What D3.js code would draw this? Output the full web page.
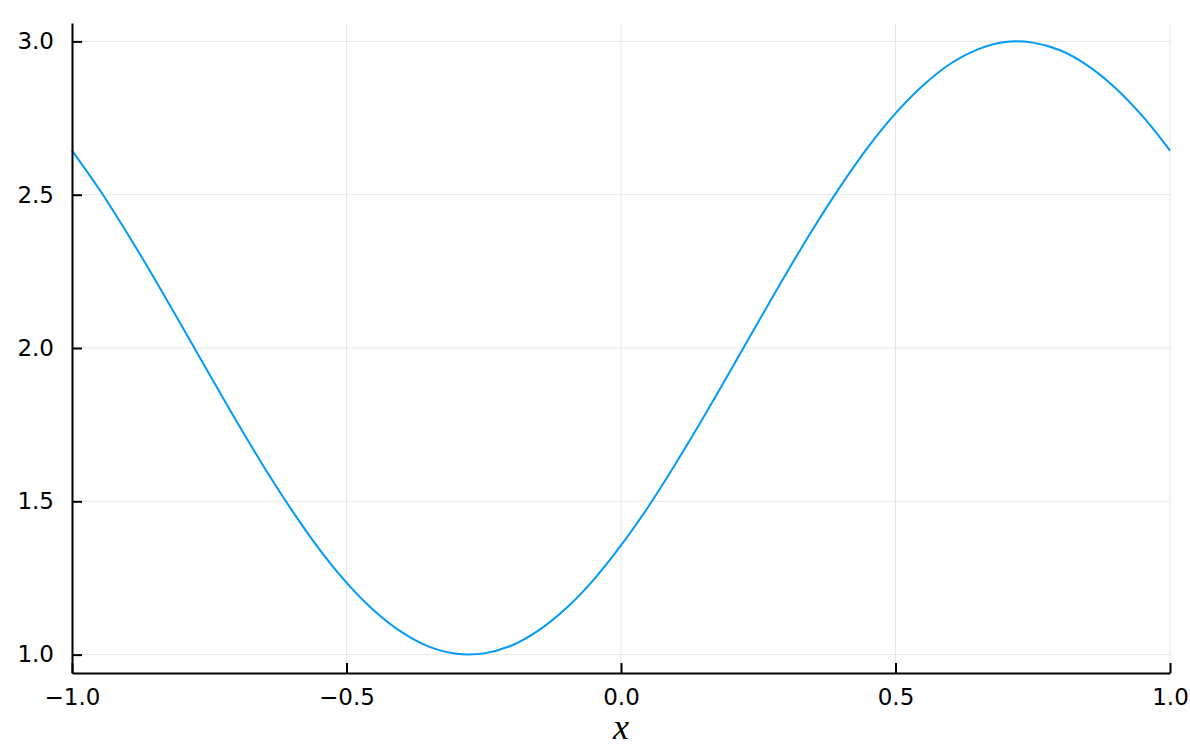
<!DOCTYPE html>
<html>
<head>
<meta charset="utf-8">
<script src="https://cdn.jsdelivr.net/npm/d3@7"></script>
<style>
  body { margin: 0; background: #fff; }
  svg { display: block; }
</style>
</head>
<body>
<div id="chart"></div>
<script>
// values
var xs = [-1.0, -0.95, -0.9, -0.85, -0.8, -0.75, -0.7, -0.65, -0.6, -0.55,
          -0.5, -0.45, -0.4, -0.35, -0.3, -0.25, -0.2, -0.15, -0.1, -0.05,
          0.0, 0.05, 0.1, 0.15, 0.2, 0.25, 0.3, 0.35, 0.4, 0.45,
          0.5, 0.55, 0.6, 0.65, 0.7, 0.75, 0.8, 0.85, 0.9, 0.95, 1.0];
var ys = [2.644, 2.517, 2.376, 2.227, 2.072, 1.915, 1.760, 1.611, 1.472, 1.345,
          1.235, 1.144, 1.074, 1.026, 1.003, 1.004, 1.029, 1.079, 1.151, 1.244,
          1.356, 1.483, 1.624, 1.773, 1.928, 2.085, 2.240, 2.389, 2.528, 2.655,
          2.765, 2.856, 2.927, 2.974, 2.998, 2.996, 2.971, 2.921, 2.849, 2.756, 2.644];
var xTicks = [-1.0, -0.5, 0.0, 0.5, 1.0];
var yTicks = [1.0, 1.5, 2.0, 2.5, 3.0];

var width = 1190,
    height = 754,
    mLeft = 72, mRight = 1170, mTop = 23, mBottom = 673;

var x = d3.scaleLinear().domain([-1, 1]).range([mLeft, mRight]);
var y = d3.scaleLinear().domain([0.94, 3.06]).range([mBottom, mTop]);

var svg = d3.select("#chart")
  .append("svg")
    .attr("width", width)
    .attr("height", height);

// grid
svg.append("g")
  .selectAll("line")
  .data(xTicks)
  .enter().append("line")
    .attr("x1", d => x(d)).attr("x2", d => x(d))
    .attr("y1", mTop).attr("y2", mBottom)
    .attr("stroke", "#e6e6e6").attr("stroke-width", 1);

svg.append("g")
  .selectAll("line")
  .data(yTicks)
  .enter().append("line")
    .attr("x1", mLeft).attr("x2", mRight)
    .attr("y1", d => y(d)).attr("y2", d => y(d))
    .attr("stroke", "#e6e6e6").attr("stroke-width", 1);

// the curve
var data = xs.map((v, i) => [v, ys[i]]);
var line = d3.line()
  .x(d => x(d[0]))
  .y(d => y(d[1]))
  .curve(d3.curveCatmullRom);

svg.append("path")
  .datum(data)
  .attr("d", line)
  .attr("fill", "none")
  .attr("stroke", "#009afa")
  .attr("stroke-width", 2);

// axes, ticks pointing inward
var fmt = d => d3.format(".1f")(d).replace("-", "\u2212");

var xAxis = svg.append("g")
  .attr("transform", "translate(0," + mBottom + ")")
  .call(d3.axisBottom(x).tickValues(xTicks).tickFormat(fmt).tickSizeInner(-10).tickSizeOuter(0).tickPadding(16));

var yAxis = svg.append("g")
  .attr("transform", "translate(" + mLeft + ",0)")
  .call(d3.axisLeft(y).tickValues(yTicks).tickFormat(fmt).tickSizeInner(-10).tickSizeOuter(0).tickPadding(18));

[xAxis, yAxis].forEach(function(g) {
  g.select(".domain").attr("stroke", "#000").attr("stroke-width", 2);
  g.selectAll(".tick line").attr("stroke", "#000").attr("stroke-width", 2);
  g.selectAll(".tick text")
    .attr("fill", "#000")
    .style("font-family", "DejaVu Sans, sans-serif")
    .style("font-size", "23px");
});

// x label
svg.append("text")
  .attr("x", (mLeft + mRight) / 2)
  .attr("y", 739)
  .attr("text-anchor", "middle")
  .style("font-family", "Liberation Serif, serif")
  .style("font-style", "italic")
  .style("font-size", "36px")
  .text("x");
</script>
</body>
</html>
